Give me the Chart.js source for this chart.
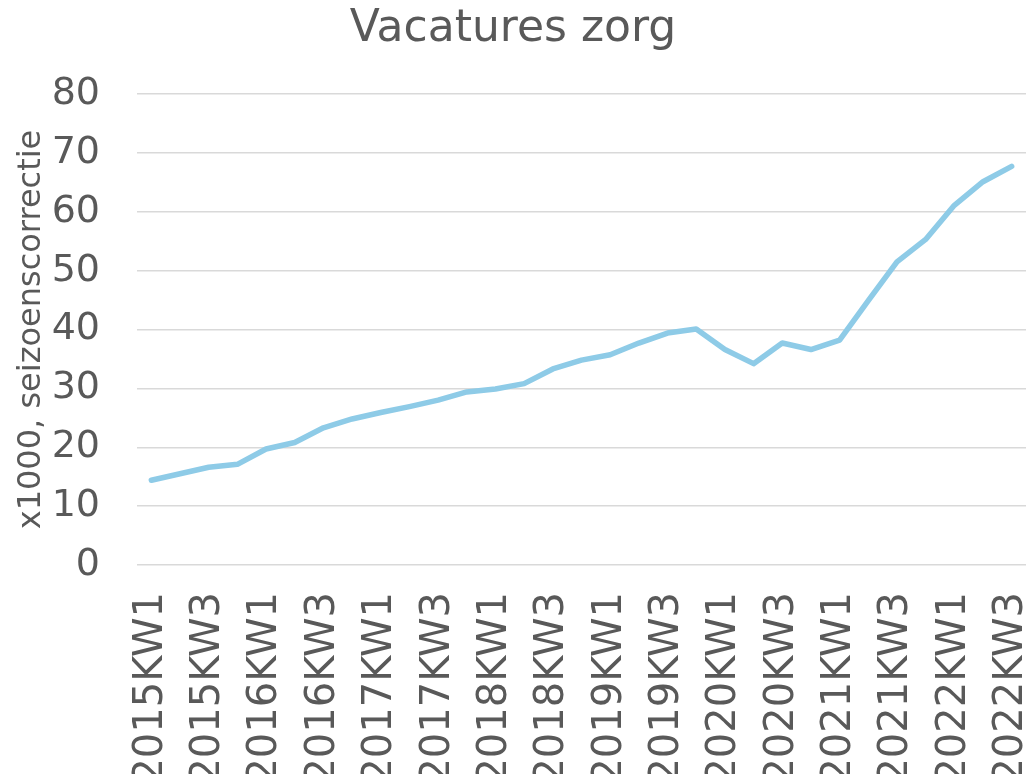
<!DOCTYPE html>
<html>
<head>
<meta charset="utf-8">
<script src="https://cdn.jsdelivr.net/npm/chart.js@4/dist/chart.umd.min.js"></script>
<style>
  html, body { margin: 0; padding: 0; background: #ffffff; }
  #wrap { width: 1030px; height: 774px; }
</style>
</head>
<body>
<div id="wrap"><canvas id="c" width="1030" height="774"></canvas></div>
<script>
const chartTitle = 'Vacatures zorg';
const yAxisTitle = 'x1000, seizoenscorrectie';
const categories = [
  '2015KW1','2015KW2','2015KW3','2015KW4',
  '2016KW1','2016KW2','2016KW3','2016KW4',
  '2017KW1','2017KW2','2017KW3','2017KW4',
  '2018KW1','2018KW2','2018KW3','2018KW4',
  '2019KW1','2019KW2','2019KW3','2019KW4',
  '2020KW1','2020KW2','2020KW3','2020KW4',
  '2021KW1','2021KW2','2021KW3','2021KW4',
  '2022KW1','2022KW2','2022KW3'
];
const vacatures = [
  14.4, 15.5, 16.6, 17.1,
  19.7, 20.8, 23.3, 24.8,
  25.9, 26.9, 28.0, 29.4,
  29.9, 30.8, 33.3, 34.8,
  35.7, 37.7, 39.4, 40.1,
  36.6, 34.2, 37.7, 36.6,
  38.2, 44.9, 51.5, 55.3,
  61.1, 65.1, 67.7
];
const yMin = 0, yMax = 80, yStep = 10;

const textColor = '#595959';
const font = '"DejaVu Sans", Verdana, sans-serif';

new Chart(document.getElementById('c'), {
  type: 'line',
  data: {
    labels: categories,
    datasets: [{
      label: chartTitle,
      data: vacatures,
      borderColor: '#8ECBE7',
      borderWidth: 5.5,
      pointRadius: 0,
      tension: 0,
      borderJoinStyle: 'round',
      borderCapStyle: 'round',
      fill: false
    }]
  },
  options: {
    responsive: false,
    animation: false,
    layout: { padding: { top: 0, left: 0, right: 4, bottom: 0 } },
    plugins: {
      legend: { display: false },
      tooltip: { enabled: false },
      title: {
        display: true,
        text: chartTitle,
        color: textColor,
        font: { family: font, size: 44, weight: 'normal', lineHeight: 1.2 },
        padding: { top: 3.5, bottom: 37.7 }
      }
    },
    scales: {
      x: {
        type: 'category',
        offset: true,
        grid: { display: false, drawTicks: false },
        border: { display: false },
        ticks: {
          autoSkip: false,
          minRotation: 90,
          maxRotation: 90,
          padding: 27,
          color: textColor,
          font: { family: font, size: 40 },
          callback: function(value, index) {
            return index % 2 === 0 ? this.getLabelForValue(value) : '';
          }
        },
        afterFit: function(s) {
          s.height = 209;
          s.paddingLeft = 0;
          s.paddingRight = 0;
        }
      },
      y: {
        min: yMin,
        max: yMax,
        grid: { color: '#D9D9D9', lineWidth: 1.5, drawTicks: false },
        border: { display: false },
        ticks: {
          stepSize: yStep,
          padding: 37,
          color: textColor,
          font: { family: font, size: 38 }
        },
        title: {
          display: true,
          text: yAxisTitle,
          color: textColor,
          font: { family: font, size: 32, weight: 'normal', lineHeight: 1.2 },
          padding: { top: 12, bottom: 0 }
        },
        afterFit: function(s) {
          s.width = 137;
        }
      }
    }
  }
});
</script>
</body>
</html>
